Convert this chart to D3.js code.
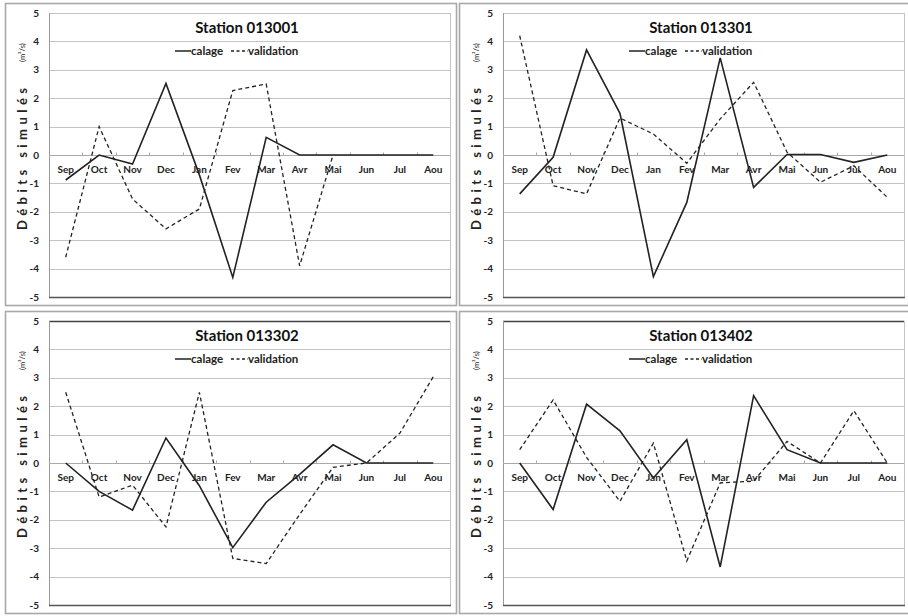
<!DOCTYPE html>
<html>
<head>
<meta charset="utf-8">
<script src="https://cdn.jsdelivr.net/npm/d3@7"></script>
<style>
  body { margin: 0; background: #fff; }
  svg { display: block; font-family: Lato, "Open Sans", sans-serif; }
</style>
</head>
<body>
<div id="chart"></div>
<script>
const months = ["Sep", "Oct", "Nov", "Dec", "Jan", "Fev", "Mar", "Avr", "Mai", "Jun", "Jul", "Aou"]
const yTicks = [5, 4, 3, 2, 1, 0, -1, -2, -3, -4, -5]
const stations = ["Station 013001", "Station 013301", "Station 013302", "Station 013402"]
const seriesNames = ["calage", "validation"]

const calage013001     = [-0.88, 0, -0.32, 2.52, -0.7, -4.31, 0.62, 0, 0, 0, 0, 0]
const validation013001 = [-3.6, 1.0, -1.55, -2.6, -1.9, 2.27, 2.5, -3.9, 0, null, null, null]
const calage013301     = [-1.37, -0.08, 3.7, 1.47, -4.28, -1.67, 3.42, -1.14, 0.02, 0.02, -0.26, 0]
const validation013301 = [4.2, -1.08, -1.37, 1.3, 0.74, -0.29, 1.27, 2.56, 0.1, -0.96, -0.38, -1.49]
const calage013302     = [0, -1.0, -1.66, 0.88, -0.8, -2.98, -1.38, -0.4, 0.64, 0, 0, 0]
const validation013302 = [2.49, -1.2, -0.78, -2.25, 2.49, -3.36, -3.54, -1.81, -0.15, 0, 1.05, 3.04]
const calage013402     = [0, -1.64, 2.07, 1.13, -0.53, 0.82, -3.66, 2.37, 0.47, 0, 0, 0]
const validation013402 = [0.47, 2.22, 0.2, -1.35, 0.7, -3.45, -0.7, -0.64, 0.76, 0, 1.84, 0]

const calageAll = [calage013001, calage013301, calage013302, calage013402]
const validationAll = [validation013001, validation013301, validation013302, validation013402]

let fullW = 908, fullH = 616,
    panelW = 454, panelH = 308,
    plot = { left: 49, right: 450, top: 13, bottom: 297 }

let svg = d3.select("#chart")
  .append("svg")
  .attr("width", fullW)
  .attr("height", fullH)

let x = d3.scalePoint()
  .domain(months)
  .range([plot.left, plot.right])
  .padding(0.5)

let xBand = d3.scaleBand()
  .domain(months)
  .range([plot.left, plot.right])

let y = d3.scaleLinear()
  .domain([-5, 5])
  .range([plot.bottom, plot.top])

const line = d3.line()
  .defined(d => d.v !== null)
  .x(d => x(d.m))
  .y(d => y(d.v))

stations.forEach(function(name, i) {
  let col = i % 2, row = Math.floor(i / 2)
  let g = svg.append("g")
    .attr("transform", "translate(" + (col * panelW) + "," + (row * panelH) + ")")

  // panel frame
  g.append("rect")
    .attr("x", 5.5).attr("y", 3.5)
    .attr("width", 451).attr("height", 302)
    .attr("fill", "#fff")
    .attr("stroke", "#a8a8a8")
    .attr("stroke-width", 1.6)

  // horizontal gridlines
  g.append("g")
    .selectAll("line")
    .data(yTicks.filter(t => t > -5 && t !== 0))
    .enter()
    .append("line")
    .attr("x1", plot.left).attr("x2", plot.right)
    .attr("y1", d => Math.round(y(d)) + 0.5)
    .attr("y2", d => Math.round(y(d)) + 0.5)
    .attr("stroke", d => (d === 5 && row === 1) ? "#444" : "#c4c4c4")
    .attr("stroke-width", d => (d === 5 && row === 1) ? 1.3 : 1)

  // right border of the plot
  g.append("line")
    .attr("x1", plot.right + 0.5).attr("x2", plot.right + 0.5)
    .attr("y1", plot.top).attr("y2", plot.bottom)
    .attr("stroke", "#c4c4c4")

  // left axis line
  g.append("line")
    .attr("x1", plot.left + 0.5).attr("x2", plot.left + 0.5)
    .attr("y1", plot.top).attr("y2", plot.bottom)
    .attr("stroke", "#9a9a9a")

  // bottom line at -5
  g.append("line")
    .attr("x1", plot.left).attr("x2", plot.right + 1)
    .attr("y1", Math.round(y(-5)) + 0.5).attr("y2", Math.round(y(-5)) + 0.5)
    .attr("stroke", "#555")
    .attr("stroke-width", 1.4)

  // zero line with category ticks
  let y0 = Math.round(y(0)) + 0.5
  g.append("line")
    .attr("x1", plot.left).attr("x2", plot.right)
    .attr("y1", y0).attr("y2", y0)
    .attr("stroke", "#aaa")
  g.append("g")
    .selectAll("line")
    .data(months.slice(1))
    .enter()
    .append("line")
    .attr("x1", d => Math.round(xBand(d)) + 0.5)
    .attr("x2", d => Math.round(xBand(d)) + 0.5)
    .attr("y1", y0 - 3).attr("y2", y0)
    .attr("stroke", "#aaa")

  // y tick labels
  g.append("g")
    .selectAll("text")
    .data(yTicks)
    .enter()
    .append("text")
    .attr("x", 39)
    .attr("y", d => y(d))
    .attr("dy", "0.35em")
    .attr("text-anchor", "end")
    .style("font-size", "10px")
    .style("font-weight", "bold")
    .attr("fill", "#222")
    .text(d => d)

  // x category labels
  g.append("g")
    .selectAll("text")
    .data(months)
    .enter()
    .append("text")
    .attr("x", d => x(d))
    .attr("y", y(0) + 18)
    .attr("text-anchor", "middle")
    .style("font-size", "10px")
    .style("font-weight", "bold")
    .attr("fill", "#222")
    .text(d => d)

  // y axis title
  g.append("text")
    .attr("transform", "translate(27,230) rotate(-90)")
    .attr("textLength", 142)
    .attr("lengthAdjust", "spacing")
    .style("font-size", "13px")
    .style("font-weight", "bold")
    .attr("fill", "#222")
    .text("Débits simulés")
  g.append("text")
    .attr("transform", "translate(25,62) rotate(-90)")
    .style("font-size", "7.5px")
    .attr("fill", "#222")
    .text("(m³/s)")

  // title
  g.append("text")
    .attr("x", 247)
    .attr("y", 33)
    .attr("text-anchor", "middle")
    .style("font-size", "15px")
    .style("font-weight", "bold")
    .attr("fill", "#111")
    .text(name)

  // legend
  let lg = g.append("g").attr("transform", "translate(175,51)")
  lg.append("line")
    .attr("x1", 0).attr("x2", 16).attr("y1", 0).attr("y2", 0)
    .attr("stroke", "#222").attr("stroke-width", 1.5)
  lg.append("text")
    .attr("x", 16).attr("y", 0).attr("dy", "0.35em")
    .style("font-size", "11.5px").style("font-weight", "bold")
    .attr("fill", "#222")
    .text(seriesNames[0])
  lg.append("line")
    .attr("x1", 56).attr("x2", 73).attr("y1", 0).attr("y2", 0)
    .attr("stroke", "#222").attr("stroke-width", 1.3)
    .attr("stroke-dasharray", "3,2.5")
  lg.append("text")
    .attr("x", 73).attr("y", 0).attr("dy", "0.35em")
    .style("font-size", "11.5px").style("font-weight", "bold")
    .attr("fill", "#222")
    .text(seriesNames[1])

  // series lines
  let calData = months.map((m, j) => ({ m: m, v: calageAll[i][j] }))
  let valData = months.map((m, j) => ({ m: m, v: validationAll[i][j] }))

  g.append("path")
    .datum(valData)
    .attr("d", line)
    .attr("fill", "none")
    .attr("stroke", "#222")
    .attr("stroke-width", 1.3)
    .attr("stroke-dasharray", "4,3")

  g.append("path")
    .datum(calData)
    .attr("d", line)
    .attr("fill", "none")
    .attr("stroke", "#222")
    .attr("stroke-width", 1.6)
})
</script>
</body>
</html>
